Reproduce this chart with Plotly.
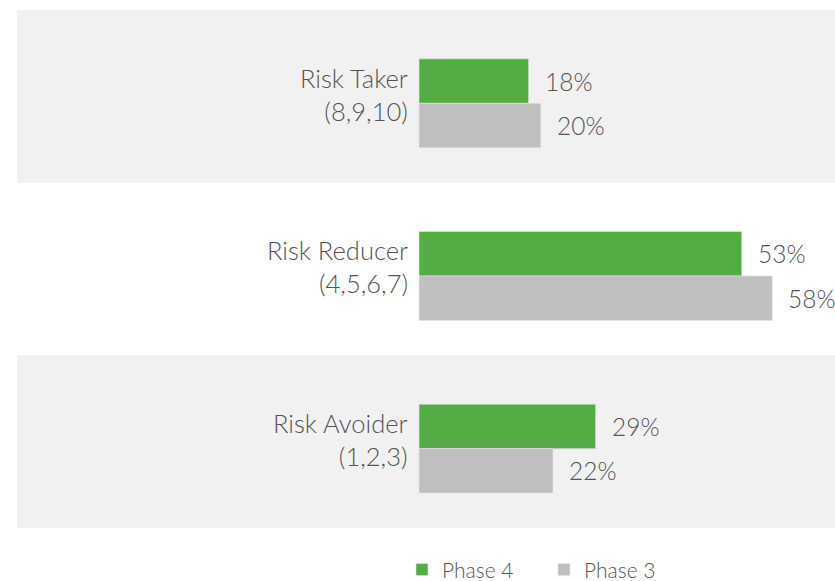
import plotly.graph_objects as go

categories = ["Risk Taker<br>(8,9,10)", "Risk Reducer<br>(4,5,6,7)", "Risk Avoider<br>(1,2,3)"]
phase4 = [18, 53, 29]
phase3 = [20, 58, 22]
series_names = ["Phase 4", "Phase 3"]
colors = ["#52ae43", "#bfbfbf"]
band_rows = [0, 2]

ypos = list(range(len(categories)))
FONT = "Lato"
TXT = "#545454"
D = 0.0405  # band offset relative to category slots

fig = go.Figure()
for name, vals, col in zip(series_names, [phase4, phase3], colors):
    fig.add_trace(go.Bar(
        x=vals, y=ypos, orientation="h", name=name,
        marker=dict(color=col, line=dict(color="#e6e6e6", width=0.6)),
        hoverinfo="skip",
    ))

half = (1 - 0.485) / 2
annotations = []
for i in ypos:
    for k, vals in enumerate([phase4, phase3]):
        yc = i - half / 2 if k == 0 else i + half / 2
        annotations.append(dict(
            x=vals[i], y=yc, xref="x", yref="y", text=f"{vals[i]}%",
            xanchor="left", yanchor="middle", xshift=14, showarrow=False,
            font=dict(family=FONT, size=24.5, color=TXT, weight=300),
        ))
    annotations.append(dict(
        x=0, y=i, xref="x", yref="y", text=categories[i], align="right",
        xanchor="right", yanchor="middle", xshift=-9, yshift=9, showarrow=False,
        font=dict(family=FONT, size=25.5, color=TXT, weight=300),
    ))

shapes = []
for r in band_rows:
    shapes.append(dict(type="rect", xref="paper", yref="y", x0=0, x1=1,
                       y0=r - 0.5 - D, y1=r + 0.5 - D, fillcolor="#f1f1f1",
                       line=dict(width=0), layer="below"))

fig.update_layout(
    width=835, height=581,
    margin=dict(l=17, r=0, t=10, b=53),
    paper_bgcolor="white", plot_bgcolor="rgba(0,0,0,0)",
    barmode="group", bargap=0.485, bargroupgap=0,
    xaxis=dict(range=[-66, 68.3], visible=False, fixedrange=True),
    yaxis=dict(range=[2.5 - D, -0.5 - D], visible=False, fixedrange=True),
    shapes=shapes, annotations=annotations,
    showlegend=True,
    legend=dict(orientation="h", xref="container", yref="container",
                x=0.4814, xanchor="left", y=0.019, yanchor="middle",
                font=dict(family=FONT, size=21, color=TXT, weight=300),
                bgcolor="rgba(0,0,0,0)", itemwidth=30, traceorder="normal",
                entrywidth=97, entrywidthmode="pixels"),
)

fig.write_html("out.html", config={"displayModeBar": False},
               post_script="document.body.style.margin='0';document.body.style.overflow='hidden';")
